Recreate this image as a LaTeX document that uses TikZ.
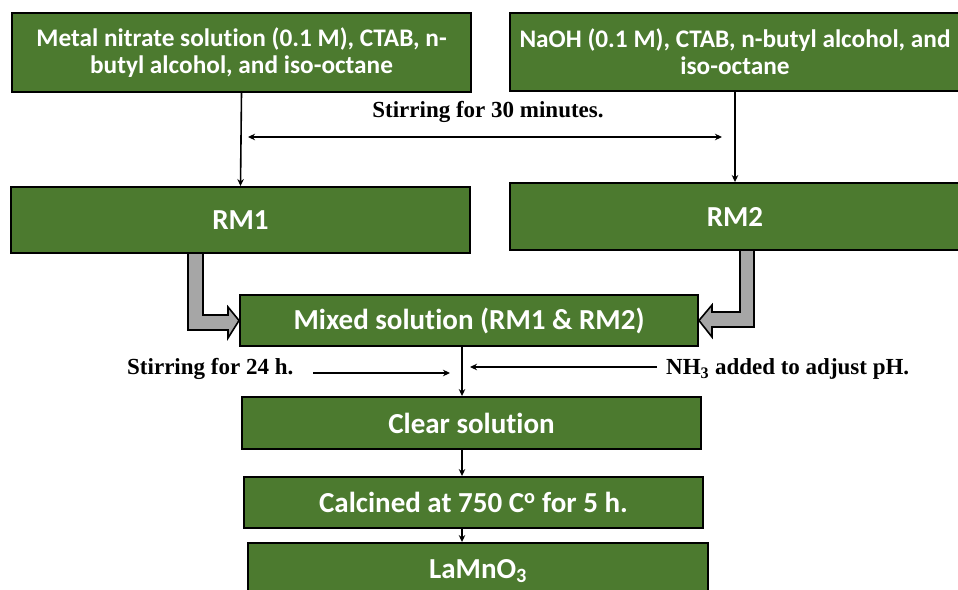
\documentclass[tikz,border=0pt]{standalone}
\usepackage{fontspec}
\setmainfont{Liberation Serif}
\newfontfamily\boxfont[Ligatures=NoCommon]{Carlito}
\usetikzlibrary{arrows.meta,calc}
\definecolor{boxgreen}{HTML}{4C7A2F}
\definecolor{arrgrey}{HTML}{A6A6A6}
\begin{document}
\begin{tikzpicture}[x=1pt,y=-1pt,
  box/.style={draw=black,line width=1.9pt,fill=boxgreen,text=white,font=\boxfont\bfseries\fontsize{25.3}{27}\selectfont,align=center,inner sep=0pt},
  bigbox/.style={box,font=\boxfont\bfseries\fontsize{29}{32}\selectfont},
  arr/.style={line width=1.6pt,-{Stealth[length=7pt,width=6.5pt]}},
  lbl/.style={font=\bfseries\fontsize{23}{26}\selectfont,inner sep=0pt},
  blk/.style={draw=black,line width=1.6pt,fill=arrgrey,line join=miter}]
\useasboundingbox (0,0) rectangle (958,589);
\fill[white] (0,0) rectangle (958,589);
\node[box,minimum width=459pt,minimum height=79pt] (b1) at (241.5,52.5) {Metal nitrate solution (0.1 M), CTAB, n-\\butyl alcohol, and iso-octane};
\node[box,minimum width=450pt,minimum height=78pt] (b2) at (735,52) {NaOH (0.1 M), CTAB, n-butyl alcohol, and\\iso-octane};
\node[bigbox,minimum width=459pt,minimum height=66pt] (rm1) at (240.5,220) {RM1};
\node[bigbox,minimum width=450pt,minimum height=67pt] (rm2) at (735,216.5) {RM2};
\node[bigbox,minimum width=458pt,minimum height=51pt] (mix) at (469,320.5) {Mixed solution (RM1 \& RM2)};
\node[bigbox,minimum width=459pt,minimum height=52pt] (clear) at (471.5,423) {Clear solution};
\node[bigbox,minimum width=459pt,minimum height=51pt] (calc) at (473.5,502.5) {Calcined at 750 C\textsuperscript{o} for 5 h.};
\node[bigbox,minimum width=460pt,minimum height=56pt] (lamno) at (478,571) {LaMnO\textsubscript{3}};
% labels
\node[lbl] (s30) at (488,112) {Stirring for 30 minutes.};
\node[lbl,anchor=west] (s24) at (127,369) {Stirring for 24 h.};
\node[lbl,anchor=west] (nh3) at (666,369) {NH\textsubscript{3} added to adjust pH.};
% vertical arrows top
\draw[arr] (b1.south) -- (rm1.north);
\draw[arr] (b2.south) -- (rm2.north);
% double arrow
\coordinate (d1) at (248,137);
\coordinate (d2) at (722,137);
\draw[line width=1.6pt,{Stealth[length=7pt,width=6.5pt]}-{Stealth[length=7pt,width=6.5pt]}] (d1) -- (d2);
% block arrows
\draw[blk] (188,253) -- (203,253) -- (203,315) -- (228,315) -- (228,307) -- (mix.west) -- (228,338) -- (228,330) -- (188,330) -- cycle;
\draw[blk] (754,250) -- (740,250) -- (740,312) -- (712,312) -- (712,305) -- (mix.east) -- (712,337) -- (712,327) -- (754,327) -- cycle;
% central line
\coordinate (cx) at (462,0);
\draw[arr] (mix.south -| cx) -- (clear.north -| cx);
\draw[arr] (clear.south -| cx) -- (calc.north -| cx);
\draw[arr] (calc.south -| cx) -- (lamno.north -| cx);
% side arrows
\coordinate (a1) at (313,373);
\coordinate (a2) at (450,373);
\coordinate (a3) at (657,367);
\coordinate (a4) at (470,367);
\draw[arr] (a1) -- (a2);
\draw[arr] (a3) -- (a4);
\end{tikzpicture}
\end{document}
